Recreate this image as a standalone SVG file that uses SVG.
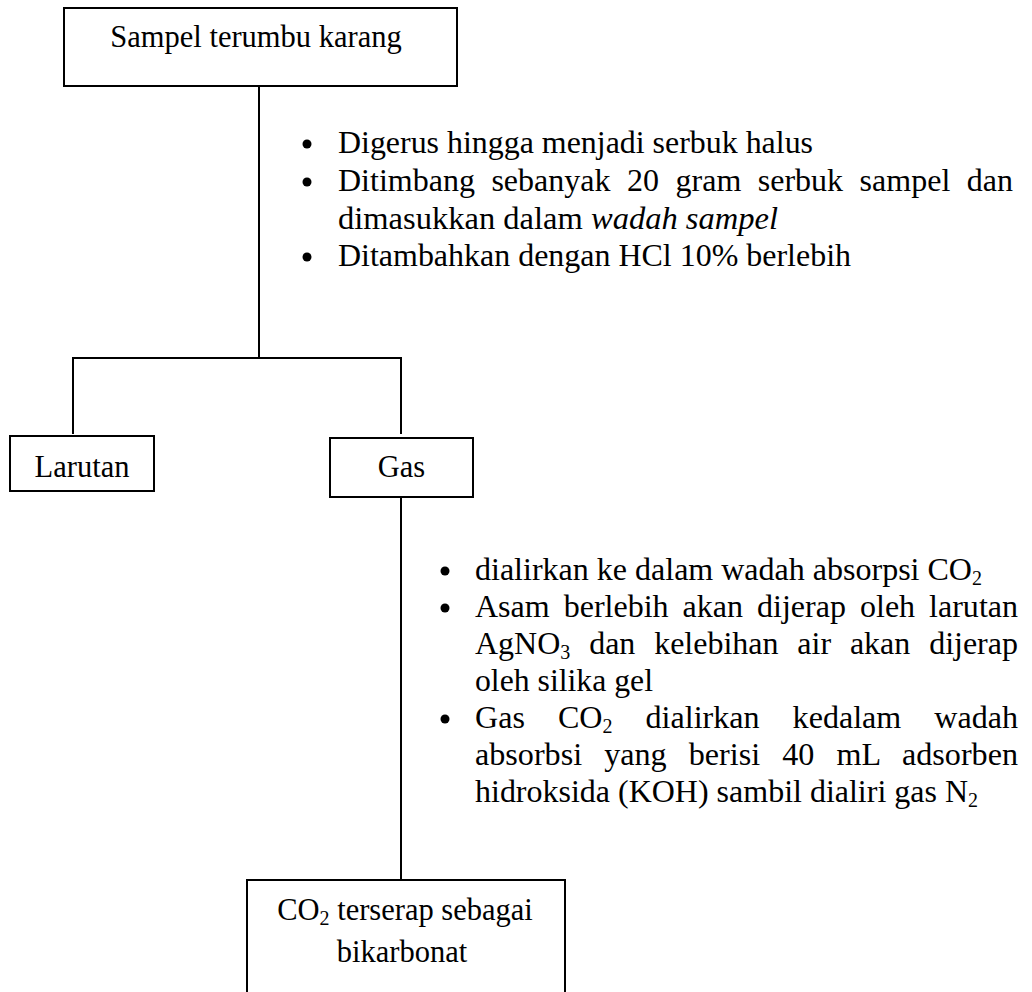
<svg xmlns="http://www.w3.org/2000/svg" width="1032" height="992" viewBox="0 0 1032 992">
<style>
.box{fill:#fff;stroke:#000;stroke-width:2}
.ln{stroke:#000;stroke-width:2;fill:none}
.t{font-family:"Liberation Serif","Times New Roman",serif;font-size:30.5px;fill:#000}
.b{font-family:"Liberation Serif","Times New Roman",serif;font-size:32px;fill:#000}
.sub{font-size:20px}
.dot{fill:#000}
</style>
<rect width="1032" height="992" fill="#fff"/>
<g id="connectors">
<line class="ln" x1="259" y1="86" x2="259" y2="358"/>
<line class="ln" x1="72" y1="358" x2="402" y2="358"/>
<line class="ln" x1="73" y1="358" x2="73" y2="434"/>
<line class="ln" x1="401" y1="358" x2="401" y2="434"/>
<line class="ln" x1="401" y1="497" x2="401" y2="880"/>
</g>
<g id="node-sampel">
<rect class="box" x="64" y="8" width="393" height="78"/>
<text class="t" x="256" y="47" text-anchor="middle">Sampel terumbu karang</text>
</g>
<g id="step1">
<circle class="dot" cx="307" cy="144" r="4.5"/>
<circle class="dot" cx="307" cy="182" r="4.5"/>
<circle class="dot" cx="307" cy="257" r="4.5"/>
<text class="b" x="338" y="153" textLength="475" lengthAdjust="spacingAndGlyphs">Digerus hingga menjadi serbuk halus</text>
<text class="b" x="338" y="191" textLength="675" lengthAdjust="spacingAndGlyphs" word-spacing="8.5">Ditimbang sebanyak 20 gram serbuk sampel dan</text>
<text class="b" x="338" y="229" textLength="440" lengthAdjust="spacingAndGlyphs">dimasukkan dalam  <tspan font-style="italic">wadah sampel</tspan></text>
<text class="b" x="338" y="266" textLength="513" lengthAdjust="spacingAndGlyphs">Ditambahkan dengan HCl 10% berlebih</text>
</g>
<g id="node-larutan">
<rect class="box" x="10" y="436" width="144" height="55"/>
<text class="t" x="82" y="477" text-anchor="middle">Larutan</text>
</g>
<g id="node-gas">
<rect class="box" x="330" y="438" width="143" height="59"/>
<text class="t" x="401.5" y="477" text-anchor="middle">Gas</text>
</g>
<g id="step2">
<circle class="dot" cx="445" cy="571" r="4.5"/>
<circle class="dot" cx="445" cy="608" r="4.5"/>
<circle class="dot" cx="445" cy="719" r="4.5"/>
<text class="b" x="475" y="580" textLength="507" lengthAdjust="spacingAndGlyphs">dialirkan ke dalam wadah absorpsi CO<tspan class="sub" dy="5">2</tspan></text>
<text class="b" x="475" y="617" textLength="543" lengthAdjust="spacingAndGlyphs" word-spacing="6">Asam berlebih akan dijerap oleh larutan</text>
<text class="b" x="475" y="654" textLength="543" lengthAdjust="spacingAndGlyphs" word-spacing="10.8">AgNO<tspan class="sub" dy="5">3</tspan><tspan dy="-5"> dan kelebihan air akan dijerap</tspan></text>
<text class="b" x="475" y="691" textLength="178" lengthAdjust="spacingAndGlyphs">oleh silika gel</text>
<text class="b" x="475" y="728" textLength="543" lengthAdjust="spacingAndGlyphs" word-spacing="25">Gas CO<tspan class="sub" dy="5">2</tspan><tspan dy="-5"> dialirkan kedalam wadah</tspan></text>
<text class="b" x="475" y="765" textLength="543" lengthAdjust="spacingAndGlyphs" word-spacing="14">absorbsi yang berisi 40 mL adsorben</text>
<text class="b" x="475" y="802" textLength="503" lengthAdjust="spacingAndGlyphs">hidroksida (KOH) sambil dialiri gas N<tspan class="sub" dy="5">2</tspan></text>
</g>
<g id="node-co2">
<rect class="box" x="247" y="880" width="318" height="140"/>
<text class="t" x="405" y="920" text-anchor="middle">CO<tspan class="sub" dy="5">2</tspan><tspan dy="-5"> terserap sebagai</tspan></text>
<text class="t" x="402" y="962" text-anchor="middle">bikarbonat</text>
</g>
</svg>
